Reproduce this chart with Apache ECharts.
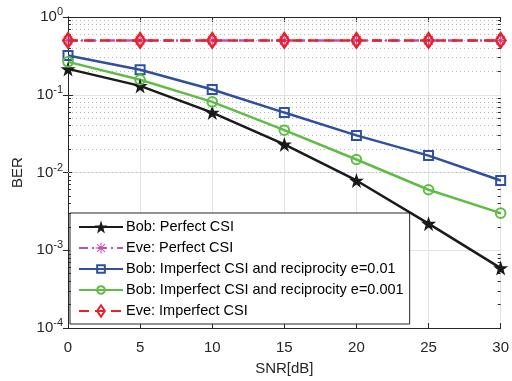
<!DOCTYPE html>
<html>
<head>
<meta charset="utf-8">
<script src="https://cdn.jsdelivr.net/npm/echarts@6/dist/echarts.min.js"></script>
<style>
  html, body { margin: 0; padding: 0; background: #fff; }
  #chart { width: 512px; height: 381px; }
</style>
</head>
<body>
<div id="chart"></div>
<script>
const snr = [0, 5, 10, 15, 20, 25, 30];
const bobPerfect = [0.215, 0.13, 0.059, 0.023, 0.0079, 0.0022, 0.00059];
const evePerfect = [0.5, 0.5, 0.5, 0.5, 0.5, 0.5, 0.5];
const bobImperfect01 = [0.32, 0.21, 0.117, 0.059, 0.030, 0.0165, 0.0079];
const bobImperfect001 = [0.265, 0.156, 0.081, 0.035, 0.0147, 0.006, 0.003];
const eveImperfect = [0.5, 0.5, 0.5, 0.5, 0.5, 0.5, 0.5];
const names = [
  'Bob: Perfect CSI',
  'Eve: Perfect CSI',
  'Bob: Imperfect CSI and reciprocity e=0.01',
  'Bob: Imperfect CSI and reciprocity e=0.001',
  'Eve: Imperfect CSI'
];

const axisColor = '#262626';
const font = 'Liberation Sans, Arial, sans-serif';

// minor values 2..9 per decade
const minorVals = [];
for (let d = -4; d < 0; d++) {
  for (let k = 2; k <= 9; k++) minorVals.push(k * Math.pow(10, d));
}

// markers: leading moves pad the 0..100 box so the legend icon (fixed box) draws smaller
const starPath = 'path://M50,0 L61.8,35.1 L98.1,35.1 L68.8,56.7 L79.4,91.9 L50,70.4 L20.6,91.9 L31.2,56.7 L1.9,35.1 L38.2,35.1 Z';
const asteriskPath = 'path://M0,0 M100,100 M46,8 L54,8 L54,92 L46,92 Z M8,46 L92,46 L92,54 L8,54 Z M17,22 L22,17 L83,78 L78,83 Z M78,17 L83,22 L22,83 L17,78 Z';
const squarePath = 'path://M0,0 M100,100 M20,20 L80,20 L80,80 L20,80 Z';
const circlePath = 'path://M0,0 M100,100 M50,20 A30,30 0 1,1 49.9,20 Z';
const diamondPath = 'path://M0,0 M100,100 M50,5 L80,50 L50,95 L20,50 Z';

const pts = (ys) => snr.map((x, i) => [x, ys[i]]);

const chart = echarts.init(document.getElementById('chart'));

const gridLine = {
  name: '_grid',
  type: 'line',
  data: [],
  silent: true,
  z: 1,
  markLine: {
    silent: true,
    symbol: 'none',
    label: { show: false },
    animation: false,
    lineStyle: { color: '#b8b8b8', type: [1, 3], width: 1 },
    data: minorVals.map(v => ({ yAxis: v }))
  }
};

const minorTicks = {
  name: '_ticks',
  type: 'line',
  data: [],
  silent: true,
  z: 3,
  markLine: {
    silent: true,
    symbol: 'none',
    label: { show: false },
    animation: false,
    lineStyle: { color: axisColor, type: 'solid', width: 1 },
    data: minorVals.flatMap(v => [
      [{ coord: [0, v] }, { coord: [0.2, v] }],
      [{ coord: [29.8, v] }, { coord: [30, v] }]
    ])
  }
};

chart.setOption({
  animation: false,
  backgroundColor: '#fff',
  grid: { left: 68, right: 9, top: 17, bottom: 52 },
  legend: {
    data: names,
    orient: 'vertical',
    left: 70,
    top: 213,
    padding: [6, 6, 5, 8],
    itemGap: 5,
    itemWidth: 44,
    itemHeight: 16,
    borderColor: axisColor,
    borderWidth: 1,
    borderRadius: 0,
    backgroundColor: '#fff',
    textStyle: { fontFamily: font, fontSize: 14.5, lineHeight: 16, color: '#000', padding: [0, 0, 0, -2] }
  },
  xAxis: [{
    type: 'value',
    min: 0,
    max: 30,
    interval: 5,
    name: 'SNR[dB]',
    nameLocation: 'middle',
    nameGap: 33,
    nameTextStyle: { fontFamily: font, fontSize: 15, color: axisColor },
    axisLine: { show: true, onZero: false, lineStyle: { color: axisColor } },
    axisTick: { inside: true, length: 5, lineStyle: { color: axisColor } },
    axisLabel: { fontFamily: font, fontSize: 15, color: axisColor, margin: 12 },
    splitLine: { show: true, lineStyle: { color: '#e3e3e3', width: 1 } }
  }, {
    type: 'value',
    position: 'top',
    min: 0,
    max: 30,
    interval: 5,
    axisLine: { show: true, lineStyle: { color: axisColor } },
    axisTick: { inside: true, length: 5, lineStyle: { color: axisColor } },
    axisLabel: { show: false },
    splitLine: { show: false }
  }],
  yAxis: [{
    type: 'log',
    logBase: 10,
    min: 1e-4,
    max: 1,
    name: 'BER',
    nameLocation: 'middle',
    nameGap: 42,
    nameTextStyle: { fontFamily: font, fontSize: 15, color: axisColor },
    axisLine: { show: true, onZero: false, lineStyle: { color: axisColor } },
    axisTick: { inside: true, length: 5, lineStyle: { color: axisColor } },
    axisLabel: {
      margin: 5,
      formatter: v => '{b|10}{s|' + Math.round(Math.log10(v)) + '}',
      rich: {
        b: { fontFamily: font, fontSize: 15, color: axisColor },
        s: { fontFamily: font, fontSize: 11, color: axisColor, verticalAlign: 'top', padding: [0, 0, 10, 0] }
      }
    },
    splitLine: { show: true, lineStyle: { color: '#e3e3e3', width: 1 } }
  }, {
    type: 'log',
    logBase: 10,
    min: 1e-4,
    max: 1,
    position: 'right',
    axisLine: { show: true, lineStyle: { color: axisColor } },
    axisTick: { inside: true, length: 5, lineStyle: { color: axisColor } },
    axisLabel: { show: false },
    splitLine: { show: false }
  }],
  series: [
    gridLine,
    {
      name: names[0],
      type: 'line',
      data: pts(bobPerfect),
      z: 5,
      symbol: starPath,
      symbolSize: 15,
      lineStyle: { color: '#1a1a1a', width: 2.5 },
      itemStyle: { color: '#1a1a1a' }
    },
    {
      name: names[1],
      type: 'line',
      data: pts(evePerfect),
      z: 5,
      symbol: asteriskPath,
      symbolSize: 14,
      lineStyle: { color: '#c04fb0', width: 2.5, type: [9, 4, 2, 4] },
      itemStyle: { color: '#c04fb0' }
    },
    {
      name: names[2],
      type: 'line',
      data: pts(bobImperfect01),
      z: 5,
      symbol: squarePath,
      symbolSize: 15,
      lineStyle: { color: '#2f4f9f', width: 2.5 },
      itemStyle: { color: 'transparent', borderColor: '#2f4f9f', borderWidth: 2 }
    },
    {
      name: names[3],
      type: 'line',
      data: pts(bobImperfect001),
      z: 5,
      symbol: circlePath,
      symbolSize: 16,
      lineStyle: { color: '#5fbd45', width: 2.5 },
      itemStyle: { color: 'transparent', borderColor: '#5fbd45', borderWidth: 2 }
    },
    {
      name: names[4],
      type: 'line',
      data: pts(eveImperfect),
      z: 6,
      symbol: diamondPath,
      symbolSize: 16,
      lineStyle: { color: '#e8222a', width: 2.5, type: [10, 6] },
      itemStyle: { color: 'transparent', borderColor: '#e8222a', borderWidth: 2.5 }
    },
    minorTicks
  ]
});
</script>
</body>
</html>
